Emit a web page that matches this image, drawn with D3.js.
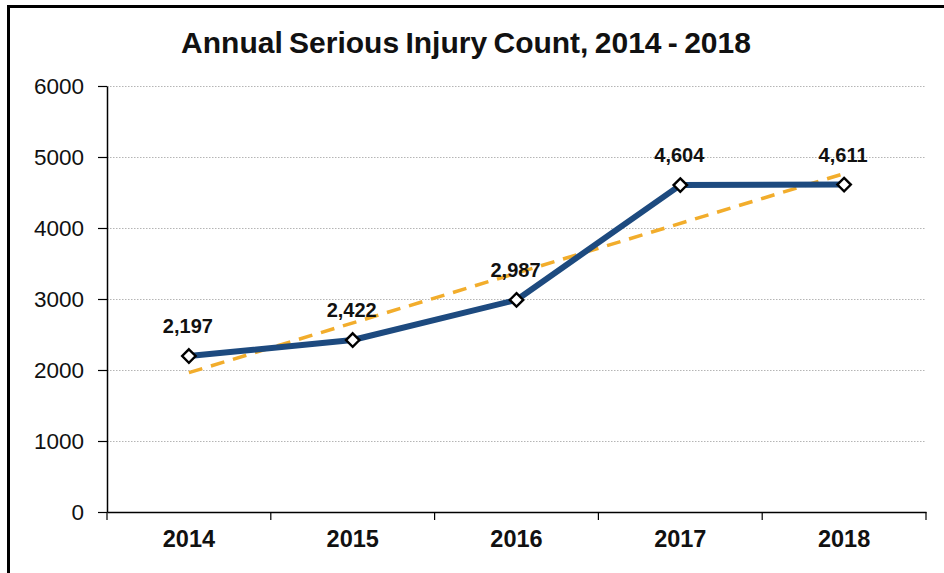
<!DOCTYPE html>
<html>
<head>
<meta charset="utf-8">
<script src="https://cdn.jsdelivr.net/npm/d3@7"></script>
<style>
  html, body { margin: 0; padding: 0; background: #fff; }
  svg { display: block; font-family: "Liberation Sans", Arial, sans-serif; }
</style>
</head>
<body>
<svg id="chart" width="944" height="573"></svg>
<script>
const years = ["2014", "2015", "2016", "2017", "2018"];
const injuries = [2197, 2422, 2987, 4604, 4611];
const trendEnds = [1962, 4766];          // linear trend at first / last year
const yTicks = [0, 1000, 2000, 3000, 4000, 5000, 6000];
const title = "Annual Serious Injury Count, 2014 - 2018";

const W = 944, H = 573;
const margin = {top: 86, right: 18, bottom: 61, left: 107};

const svg = d3.select("#chart");

// outer frame (runs off the right and bottom of the picture)
svg.append("rect")
    .attr("x", 8.5).attr("y", 6.5)
    .attr("width", W + 20).attr("height", H + 20)
    .attr("fill", "none").attr("stroke", "#000").attr("stroke-width", 3);

const x = d3.scaleBand().domain(years).range([margin.left, W - margin.right]).padding(0);
const y = d3.scaleLinear().domain([0, 6000]).range([H - margin.bottom, margin.top]);
const cx = d => x(d) + x.bandwidth() / 2;

// title
svg.append("text")
    .attr("x", 466).attr("y", 53)
    .attr("text-anchor", "middle")
    .attr("font-size", 30).attr("font-weight", "bold")
    .attr("word-spacing", -2)
    .attr("fill", "#111")
    .text(title);

// gridlines
svg.append("g")
    .selectAll("line")
    .data(yTicks.filter(d => d > 0))
    .join("line")
    .attr("x1", margin.left).attr("x2", W - margin.right)
    .attr("y1", d => Math.round(y(d)) + 0.5).attr("y2", d => Math.round(y(d)) + 0.5)
    .attr("stroke", "#b5b5b5").attr("stroke-width", 1)
    .attr("stroke-dasharray", "1.5,1.5");

// y axis
const yAxis = svg.append("g")
    .attr("transform", `translate(${margin.left},0)`)
    .call(d3.axisLeft(y).tickValues(yTicks).tickSize(9).tickSizeOuter(0).tickPadding(14).tickFormat(d3.format("d")));
yAxis.select(".domain").attr("stroke", "#000").attr("stroke-width", 1.5);
yAxis.selectAll(".tick line").attr("stroke", "#000").attr("stroke-width", 1.2);
yAxis.selectAll("text").attr("font-size", 22.5).attr("fill", "#111").attr("font-family", "Liberation Sans, Arial, sans-serif");

// x axis: labels centred in bands, ticks on band edges
const xAxis = svg.append("g")
    .attr("transform", `translate(0,${H - margin.bottom})`)
    .call(d3.axisBottom(x).tickSize(0).tickPadding(18));
xAxis.select(".domain").attr("stroke", "#000").attr("stroke-width", 1.5);
xAxis.selectAll("text").attr("font-size", 23.5).attr("font-weight", "bold").attr("fill", "#111")
    .attr("font-family", "Liberation Sans, Arial, sans-serif");
xAxis.selectAll(".edge")
    .data(years.map(d => x(d)).concat([x.range()[1]]))
    .join("line")
    .attr("class", "edge")
    .attr("x1", d => d).attr("x2", d => d)
    .attr("y1", 0).attr("y2", 8)
    .attr("stroke", "#000").attr("stroke-width", 1.2);

// trendline
svg.append("line")
    .attr("x1", cx(years[0])).attr("y1", y(trendEnds[0]))
    .attr("x2", cx(years[years.length - 1])).attr("y2", y(trendEnds[1]))
    .attr("stroke", "#f2ad2c").attr("stroke-width", 3.5)
    .attr("stroke-dasharray", "14,9");

// series line
const line = d3.line().x((d, i) => cx(years[i])).y(d => y(d));
svg.append("path")
    .datum(injuries)
    .attr("d", line)
    .attr("fill", "none")
    .attr("stroke", "#1d4a7f").attr("stroke-width", 6)
    .attr("stroke-linejoin", "round");

// markers
svg.append("g")
    .selectAll("path")
    .data(injuries)
    .join("path")
    .attr("transform", (d, i) => `translate(${cx(years[i])},${y(d)})`)
    .attr("d", d3.symbol(d3.symbolDiamond2, 115))
    .attr("fill", "#fff").attr("stroke", "#000").attr("stroke-width", 2.4);

// data labels
svg.append("g")
    .selectAll("text")
    .data(injuries)
    .join("text")
    .attr("x", (d, i) => cx(years[i]) - 1)
    .attr("y", d => y(d) - 23)
    .attr("text-anchor", "middle")
    .attr("font-size", 20).attr("font-weight", "bold")
    .attr("fill", "#111")
    .text(d => d3.format(",")(d));
</script>
</body>
</html>
